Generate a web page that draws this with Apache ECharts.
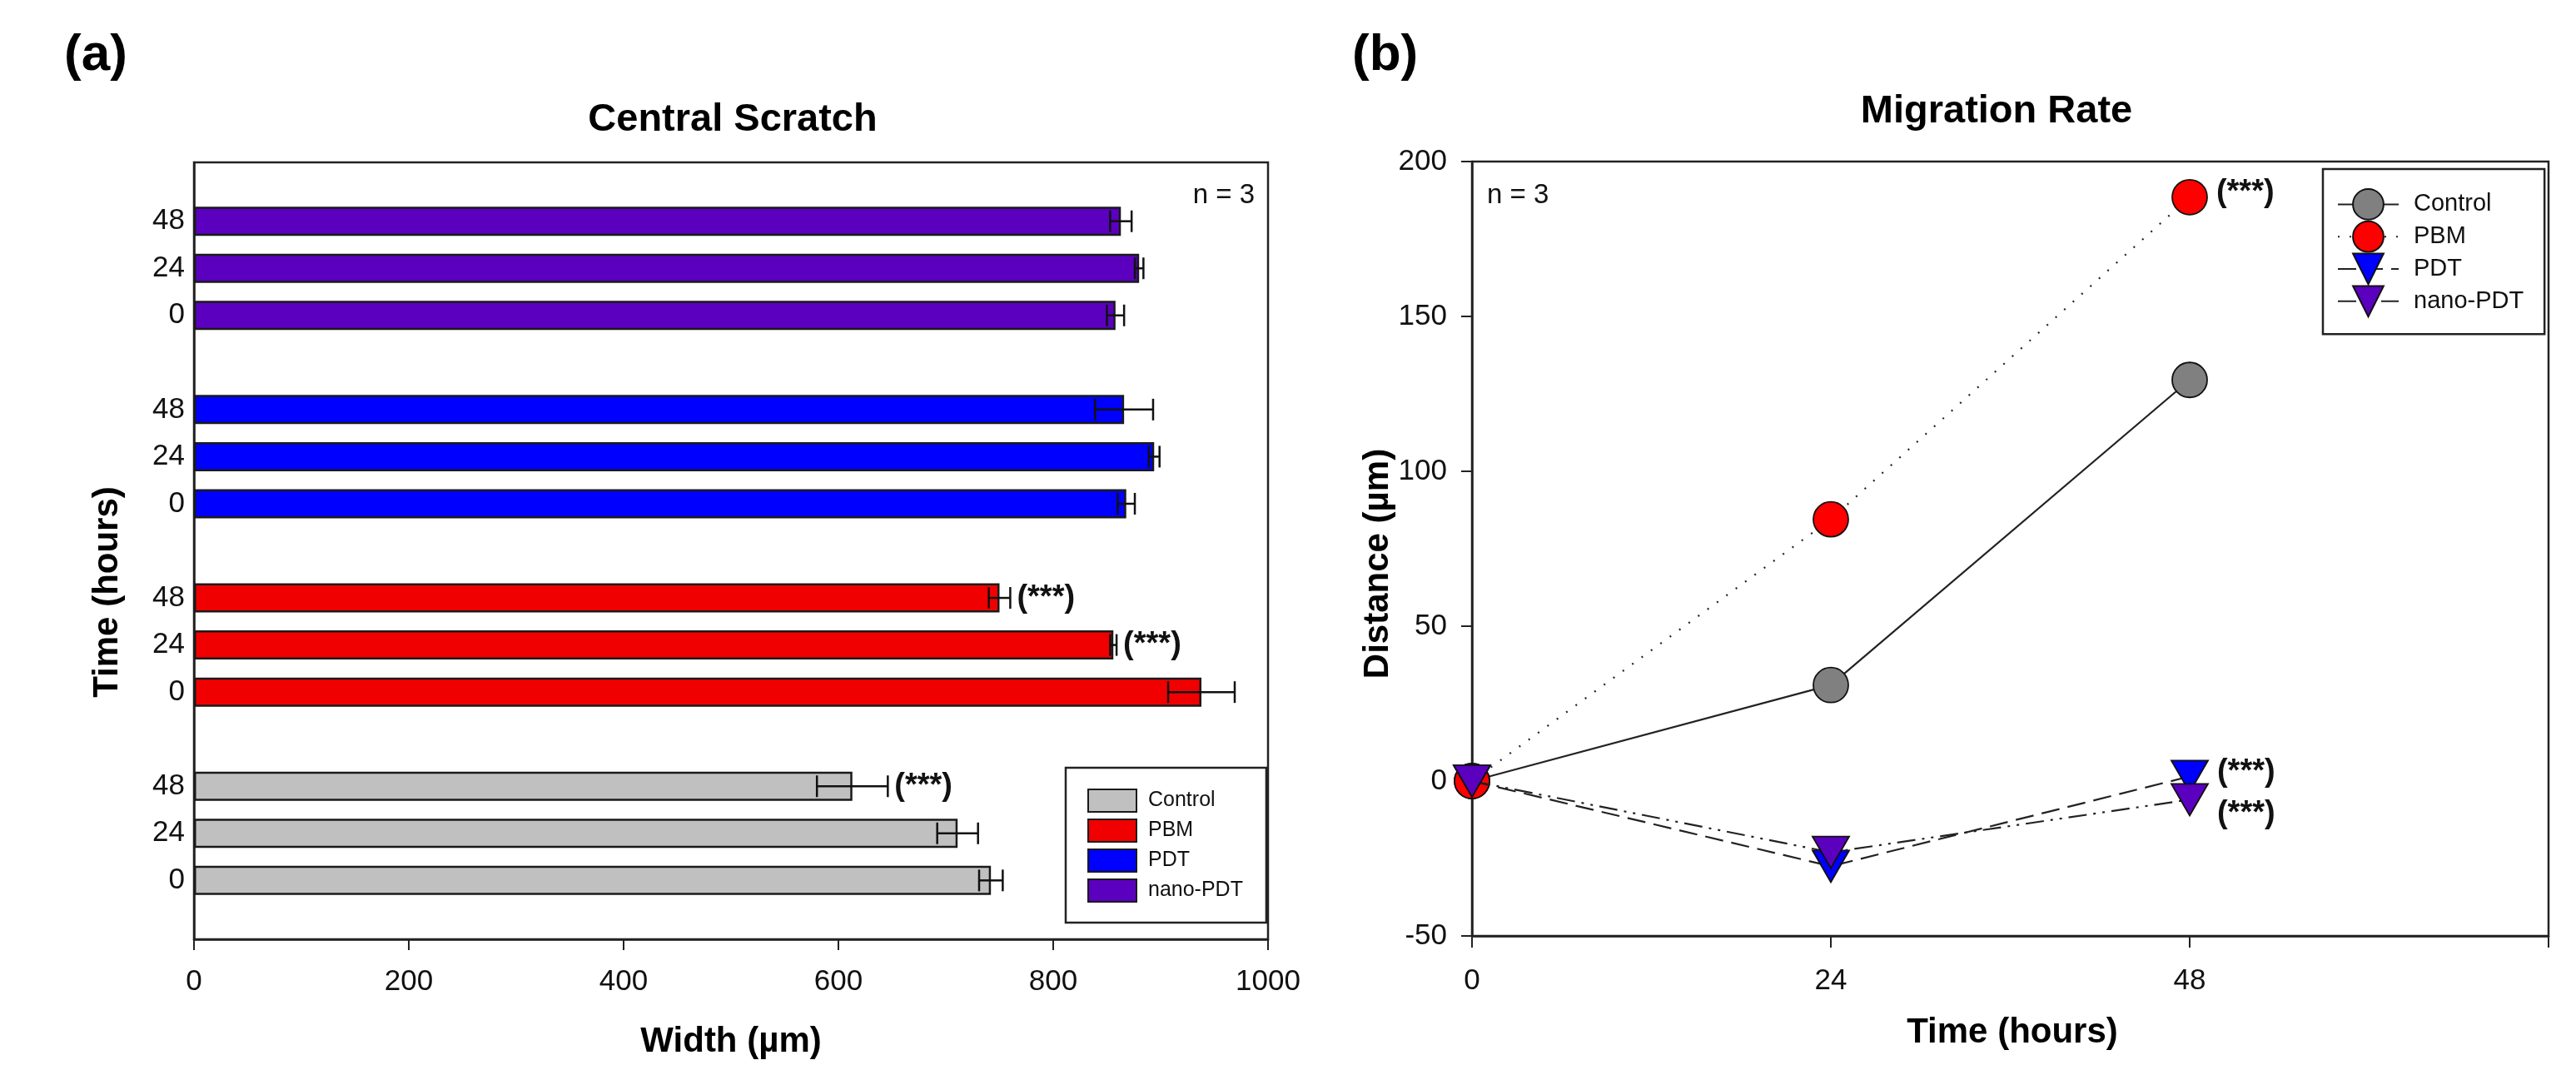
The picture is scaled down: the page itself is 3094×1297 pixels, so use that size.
<!DOCTYPE html>
<html><head><meta charset="utf-8">
<script src="https://cdn.jsdelivr.net/npm/echarts@6/dist/echarts.min.js"></script>
<style>html,body{margin:0;padding:0;background:#fff}#c{width:3094px;height:1297px}</style>
</head><body><div id="c"></div>
<script>
// ---------- data ----------
const groups = ['Control', 'PBM', 'PDT', 'nano-PDT'];
const timeLabels = ['0', '24', '48'];
// Panel (a): scratch width (µm) at 0, 24, 48 h
const widthControl = [742, 711, 613];
const widthPBM     = [938, 856, 750];
const widthPDT     = [868, 894, 866];
const widthNano    = [858, 880, 863];
const errControl = [11, 19, 33];
const errPBM     = [31, 3, 10];
const errPDT     = [8, 5, 27];
const errNano    = [8, 4, 10];
const sigControl = ['', '', '(***)'];
const sigPBM     = ['', '(***)', '(***)'];
const sigPDT     = ['', '', ''];
const sigNano    = ['', '', ''];
// Panel (b): migration distance (µm)
const hours = [0, 24, 48];
const distControl = [0, 31, 129.5];
const distPBM     = [0, 84.5, 188.5];
const distPDT     = [0, -27.5, 1.5];
const distNano    = [0, -23, -6];
const sigB = ['', '(***)', '(***)', '(***)'];

// ---------- build ----------
const FONT = "'Liberation Sans', Arial, sans-serif";
const barColors = ['#C0C0C0', '#F00000', '#0000FF', '#5B00BF'];
const widths = [widthControl, widthPBM, widthPDT, widthNano];
const errs = [errControl, errPBM, errPDT, errNano];
const sigsA = [sigControl, sigPBM, sigPDT, sigNano];

// category slots (quarter-slot resolution), 0 at bottom
const NCAT = 67;
function slotIndex(g, t) { return 5 + g * 16 + t * 4; }
const yCats = [];
const yLabelMap = {};
for (let i = 0; i < NCAT; i++) { yCats.push('s' + i); }
groups.forEach((g, gi) => timeLabels.forEach((t, ti) => { yLabelMap['s' + slotIndex(gi, ti)] = t; }));

const series = [];
groups.forEach((g, gi) => {
  const arr = new Array(NCAT).fill(null);
  timeLabels.forEach((t, ti) => { arr[slotIndex(gi, ti)] = widths[gi][ti]; });
  series.push({
    name: g, type: 'bar', xAxisIndex: 0, yAxisIndex: 0, data: arr,
    barWidth: 35, barGap: '-100%',
    itemStyle: { color: barColors[gi], borderColor: '#1a1a1a', borderWidth: 2.5 },
    z: 2
  });
});
const errData = [], errSig = [];
groups.forEach((g, gi) => timeLabels.forEach((t, ti) => {
  errData.push([widths[gi][ti], slotIndex(gi, ti), errs[gi][ti]]);
  errSig.push(sigsA[gi][ti]);
}));
series.push({
  type: 'custom', xAxisIndex: 0, yAxisIndex: 0, z: 5, silent: true,
  data: errData,
  renderItem: function (params, api) {
    const m = api.value(0), idx = api.value(1), e = api.value(2);
    const p1 = api.coord([m - e, idx]);
    const p2 = api.coord([m + e, idx]);
    const h = 13;
    const st = { stroke: '#111', lineWidth: 2.5 };
    const children = [
      { type: 'line', shape: { x1: p1[0], y1: p1[1], x2: p2[0], y2: p2[1] }, style: st },
      { type: 'line', shape: { x1: p1[0], y1: p1[1] - h, x2: p1[0], y2: p1[1] + h }, style: st },
      { type: 'line', shape: { x1: p2[0], y1: p2[1] - h, x2: p2[0], y2: p2[1] + h }, style: st }
    ];
    const s = errSig[params.dataIndex];
    if (s) {
      children.push({ type: 'text', style: { x: p2[0] + 8, y: p2[1], text: s, fill: '#111',
        font: 'bold 38px ' + FONT, textAlign: 'left', textVerticalAlign: 'middle' } });
    }
    return { type: 'group', children: children };
  }
});

// panel (b)
const dists = [distControl, distPBM, distPDT, distNano];
const lineFill = ['#808080', '#FF0000', '#0000FF', '#5B00BF'];
const lineTypes = ['solid', [2, 12], [22, 10], [22, 8, 3, 8, 3, 8]];
const symbols = ['circle', 'circle', 'triangle', 'triangle'];
const symSizes = [42, 42, [44, 38], [44, 38]];
const sigOffsets = [[0, 0], [0, -5], [0, -5], [0, 17]];
groups.forEach((g, gi) => {
  const data = hours.map((h, i) => {
    const item = { value: [h, dists[gi][i]] };
    if (i === hours.length - 1 && sigB[gi]) {
      item.label = { show: true, position: 'right', distance: 10, formatter: sigB[gi],
        offset: sigOffsets[gi], fontFamily: FONT, fontWeight: 'bold', fontSize: 38, color: '#111' };
    }
    return item;
  });
  series.push({
    name: 'b:' + g, type: 'line', xAxisIndex: 1, yAxisIndex: 1, data: data,
    symbol: symbols[gi], symbolSize: symSizes[gi], symbolRotate: gi >= 2 ? 180 : 0,
    lineStyle: { color: '#222', width: 2.2, type: lineTypes[gi] },
    itemStyle: { color: lineFill[gi], borderColor: '#111', borderWidth: 1.8 },
    emphasis: { disabled: true }, z: 3 + gi
  });
});

const axisLineStyle = { color: '#222', width: 2.5 };
const labelStyle = { fontFamily: FONT, fontSize: 35, color: '#111' };

const option = {
  animation: false,
  backgroundColor: '#fff',
  grid: [
    { left: 233, top: 195, width: 1290, height: 933, show: true, borderColor: '#222', borderWidth: 2.5, containLabel: false },
    { left: 1768, top: 194, width: 1293, height: 930, show: true, borderColor: '#222', borderWidth: 2.5, containLabel: false }
  ],
  xAxis: [
    { gridIndex: 0, type: 'value', min: 0, max: 1000, interval: 200,
      axisLine: { show: true, onZero: false, lineStyle: axisLineStyle },
      axisTick: { show: true, inside: false, length: 13, lineStyle: { color: '#222', width: 2 } },
      axisLabel: Object.assign({ margin: 34, formatter: v => String(v) }, labelStyle),
      splitLine: { show: false } },
    { gridIndex: 1, type: 'value', min: 0, max: 72, interval: 24,
      axisLine: { show: true, onZero: false, lineStyle: axisLineStyle },
      axisTick: { show: true, inside: false, length: 14, lineStyle: { color: '#222', width: 2 } },
      axisLabel: Object.assign({ margin: 37, formatter: v => (v === 72 ? '' : String(v)) }, labelStyle),
      splitLine: { show: false } }
  ],
  yAxis: [
    { gridIndex: 0, type: 'category', data: yCats, boundaryGap: false,
      axisLine: { show: true, onZero: false, lineStyle: axisLineStyle },
      axisTick: { show: false },
      axisLabel: Object.assign({ margin: 11, interval: 0, formatter: v => yLabelMap[v] || '' }, labelStyle),
      splitLine: { show: false } },
    { gridIndex: 1, type: 'value', min: -50, max: 200, interval: 50,
      axisLine: { show: true, onZero: false, lineStyle: axisLineStyle },
      axisTick: { show: true, inside: false, length: 13, lineStyle: { color: '#222', width: 2 } },
      axisLabel: Object.assign({ margin: 30 }, labelStyle),
      splitLine: { show: false } }
  ],
  legend: [
    { data: groups, orient: 'vertical', left: 1280, top: 922, icon: 'rect',
      itemWidth: 58, itemHeight: 27, itemGap: 7, padding: [25, 28, 24, 26],
      borderColor: '#222', borderWidth: 2.5, selectedMode: false,
      textStyle: { fontFamily: FONT, fontSize: 25, color: '#111', padding: [0, 0, 0, 9] } },
    { data: groups.map(g => 'b:' + g), orient: 'vertical', left: 2790, top: 203,
      itemWidth: 73, itemHeight: 46, itemGap: 0, padding: [23, 25, 20, 17],
      borderColor: '#222', borderWidth: 2.5, selectedMode: false,
      formatter: n => n.replace(/^b:/, ''),
      textStyle: { fontFamily: FONT, fontSize: 29, color: '#111', padding: [0, 0, 0, 13] } }
  ],
  graphic: [
    { type: 'text', left: 77, top: 36, style: { text: '(a)', font: 'bold 62px ' + FONT, fill: '#000' } },
    { type: 'text', left: 1624, top: 36, style: { text: '(b)', font: 'bold 62px ' + FONT, fill: '#000' } },
    { type: 'text', x: 880, y: 144, style: { text: 'Central Scratch', font: 'bold 47px ' + FONT, fill: '#000', textAlign: 'center', textVerticalAlign: 'middle' } },
    { type: 'text', x: 2398, y: 134, style: { text: 'Migration Rate', font: 'bold 47px ' + FONT, fill: '#000', textAlign: 'center', textVerticalAlign: 'middle' } },
    { type: 'text', x: 1507, y: 235, style: { text: 'n = 3', font: '33px ' + FONT, fill: '#111', textAlign: 'right', textVerticalAlign: 'middle' } },
    { type: 'text', x: 1786, y: 235, style: { text: 'n = 3', font: '33px ' + FONT, fill: '#111', textAlign: 'left', textVerticalAlign: 'middle' } },
    { type: 'text', x: 878, y: 1251, style: { text: 'Width (µm)', font: 'bold 42px ' + FONT, fill: '#000', textAlign: 'center', textVerticalAlign: 'middle' } },
    { type: 'text', x: 2417, y: 1240, style: { text: 'Time (hours)', font: 'bold 42px ' + FONT, fill: '#000', textAlign: 'center', textVerticalAlign: 'middle' } },
    { type: 'text', x: 129, y: 711, rotation: Math.PI / 2, style: { text: 'Time (hours)', font: 'bold 42px ' + FONT, fill: '#000', textAlign: 'center', textVerticalAlign: 'middle' } },
    { type: 'text', x: 1655, y: 677, rotation: Math.PI / 2, style: { text: 'Distance (µm)', font: 'bold 42px ' + FONT, fill: '#000', textAlign: 'center', textVerticalAlign: 'middle' } }
  ],
  series: series
};
const chart = echarts.init(document.getElementById('c'), null, { renderer: 'canvas' });
chart.setOption(option);
</script>
</body></html>
